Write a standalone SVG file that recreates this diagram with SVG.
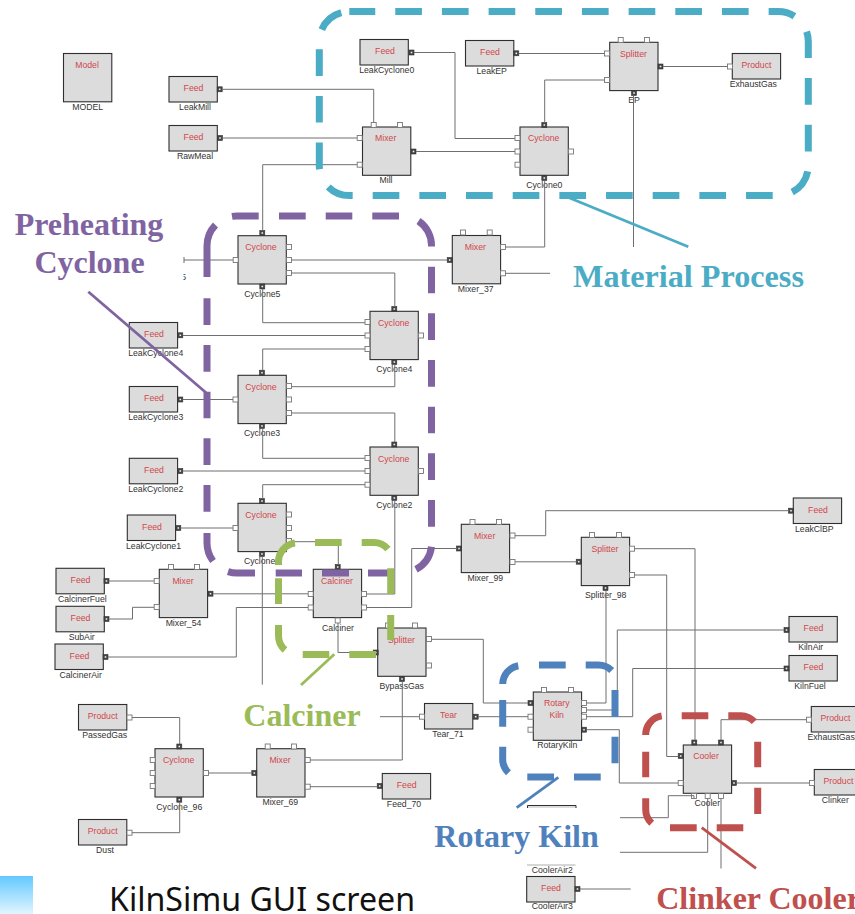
<svg xmlns="http://www.w3.org/2000/svg" xmlns:xlink="http://www.w3.org/1999/xlink" width="855" height="914" viewBox="0 0 855 914">
<style>
.b{fill:#dcdcdc;stroke:#2e2e2e;stroke-width:1.1}
.t{font:8.7px "Liberation Sans",Arial,sans-serif;fill:#d2474b;text-anchor:middle}
.l{font:8.7px "Liberation Sans",Arial,sans-serif;fill:#333;text-anchor:middle}
.c{fill:none;stroke:#6f6f6f;stroke-width:1}
.h{fill:none;stroke-width:7}
.s{fill:none;stroke-width:2.8}
.big{font:bold 32px "Liberation Serif","Times New Roman",serif;text-anchor:middle}
.teal{stroke:#4bacc6}.purple{stroke:#8064a2}.green{stroke:#9bbb59}.blue{stroke:#4f81bd}.red{stroke:#c0504d}
</style>
<defs>
<rect id="pw" x="-2.5" y="-2.5" width="5" height="5" fill="#fff" stroke="#777" stroke-width="0.9"/>
<g id="pk"><rect x="-2.5" y="-2.5" width="5" height="5" fill="#444" stroke="#333" stroke-width="0.6"/><rect x="-0.8" y="-0.8" width="1.6" height="1.6" fill="#eee"/></g>
<linearGradient id="bar" x1="0" y1="0" x2="0" y2="1"><stop offset="0" stop-color="#62c9ff"/><stop offset="1" stop-color="#e2f5ff"/></linearGradient>
<clipPath id="cut5"><rect x="183.5" y="268" width="6" height="14"/></clipPath>
</defs>
<rect width="855" height="914" fill="#fff"/>
<g id="nodes">
<g id="MODEL"><rect class="b" x="63.5" y="53.5" width="48.3" height="48.3"/><text class="t" x="87" y="67.7">Model</text><text class="l" x="87.7" y="110">MODEL</text></g>
<g id="LeakMill"><rect class="b" x="169" y="76.5" width="48.3" height="25.5"/><text class="t" x="193.5" y="91">Feed</text><text class="l" x="195" y="110">LeakMill</text><use href="#pk" x="219.7" y="89.3"/></g>
<g id="RawMeal"><rect class="b" x="169" y="125.5" width="48.3" height="25.5"/><text class="t" x="193.5" y="140">Feed</text><text class="l" x="195" y="159">RawMeal</text><use href="#pk" x="220" y="138"/></g>
<g id="Mill"><rect class="b" x="362.5" y="127" width="48.3" height="48.3"/><text class="t" x="385.7" y="141">Mixer</text><text class="l" x="386" y="183">Mill</text><use href="#pw" x="373.7" y="125"/><use href="#pw" x="400" y="125"/><use href="#pw" x="359.7" y="138"/><use href="#pw" x="359.7" y="164.7"/><use href="#pk" x="413.5" y="151.5"/></g>
<g id="LeakCyclone0"><rect class="b" x="360" y="39.5" width="48.3" height="25.5"/><text class="t" x="385" y="54">Feed</text><text class="l" x="386.7" y="73">LeakCyclone0</text><use href="#pk" x="411.5" y="52.5"/></g>
<g id="LeakEP"><rect class="b" x="465.5" y="40.5" width="48.3" height="25.5"/><text class="t" x="490" y="55">Feed</text><text class="l" x="491.7" y="74">LeakEP</text><use href="#pk" x="516.3" y="53.3"/></g>
<g id="EP"><rect class="b" x="609.7" y="42.3" width="48.3" height="48.3"/><text class="t" x="633.5" y="56.5">Splitter</text><text class="l" x="634" y="103">EP</text><use href="#pw" x="620.7" y="40"/><use href="#pw" x="647" y="40"/><use href="#pw" x="607" y="53.5"/><use href="#pw" x="607" y="80"/><use href="#pk" x="660.5" y="66.5"/><use href="#pk" x="634" y="93"/></g>
<g id="ExhaustGas"><rect class="b" x="732.3" y="53.5" width="48.3" height="25.5"/><text class="t" x="756.5" y="68">Product</text><text class="l" x="753.3" y="87">ExhaustGas</text><use href="#pw" x="730" y="66.5"/></g>
<g id="Cyclone0"><rect class="b" x="520" y="127" width="48.3" height="48.3"/><text class="t" x="543.7" y="141">Cyclone</text><text class="l" x="544.3" y="188">Cyclone0</text><use href="#pk" x="544.3" y="125"/><use href="#pw" x="517.5" y="138"/><use href="#pw" x="517.5" y="151.5"/><use href="#pw" x="517.5" y="164.7"/><use href="#pw" x="571" y="151.5"/><use href="#pk" x="544.3" y="178"/></g>
<g id="Mixer_37"><rect class="b" x="452.3" y="235.5" width="48.3" height="48.3"/><text class="t" x="475.3" y="249.5">Mixer</text><text class="l" x="475.7" y="292">Mixer_37</text><use href="#pw" x="463" y="232.5"/><use href="#pw" x="489.7" y="232.5"/><use href="#pk" x="449.7" y="260"/><use href="#pw" x="503" y="247"/><use href="#pw" x="503" y="273.3"/></g>
<g id="Cyclone5"><rect class="b" x="238" y="235.7" width="48.3" height="48.3"/><text class="t" x="261" y="249.5">Cyclone</text><text class="l" x="262.3" y="296.7">Cyclone5</text><use href="#pk" x="262.3" y="233"/><use href="#pw" x="235.7" y="260"/><use href="#pw" x="289" y="247"/><use href="#pw" x="289" y="260"/><use href="#pw" x="289" y="273"/><use href="#pk" x="262.3" y="286.5"/></g>
<g id="Cyclone4"><rect class="b" x="370" y="311.3" width="48.3" height="48.3"/><text class="t" x="393.7" y="325.5">Cyclone</text><text class="l" x="394.3" y="372">Cyclone4</text><use href="#pk" x="394.3" y="309"/><use href="#pw" x="367.5" y="322"/><use href="#pw" x="367.5" y="335.5"/><use href="#pw" x="367.5" y="349"/><use href="#pw" x="421" y="335.5"/><use href="#pk" x="394.3" y="362"/></g>
<g id="LeakCyclone4"><rect class="b" x="129.3" y="322.5" width="48.3" height="25.5"/><text class="t" x="154" y="337">Feed</text><text class="l" x="155.7" y="356">LeakCyclone4</text><use href="#pk" x="180.3" y="335.3"/></g>
<g id="Cyclone3"><rect class="b" x="238" y="375.3" width="48.3" height="48.3"/><text class="t" x="261" y="389.5">Cyclone</text><text class="l" x="262" y="436">Cyclone3</text><use href="#pk" x="262" y="372.7"/><use href="#pw" x="235.5" y="399.5"/><use href="#pw" x="289" y="386"/><use href="#pw" x="289" y="399.5"/><use href="#pw" x="289" y="413"/><use href="#pk" x="262" y="426"/></g>
<g id="LeakCyclone3"><rect class="b" x="129.3" y="386.5" width="48.3" height="25.5"/><text class="t" x="154" y="401">Feed</text><text class="l" x="155.7" y="420">LeakCyclone3</text><use href="#pk" x="180.3" y="399.5"/></g>
<g id="Cyclone2"><rect class="b" x="370" y="447" width="48.3" height="48.3"/><text class="t" x="393.7" y="461.5">Cyclone</text><text class="l" x="394.3" y="508">Cyclone2</text><use href="#pk" x="394.3" y="444.5"/><use href="#pw" x="367.5" y="458"/><use href="#pw" x="367.5" y="471"/><use href="#pw" x="367.5" y="484.7"/><use href="#pw" x="421" y="471"/><use href="#pk" x="394.3" y="498"/></g>
<g id="LeakCyclone2"><rect class="b" x="129.3" y="458.3" width="48.3" height="25.5"/><text class="t" x="154" y="473">Feed</text><text class="l" x="155.7" y="492">LeakCyclone2</text><use href="#pk" x="180.3" y="471"/></g>
<g id="Cyclone1"><rect class="b" x="238" y="503.3" width="48.3" height="48.3"/><text class="t" x="261" y="517.5">Cyclone</text><text class="l" x="262" y="564">Cyclone1</text><use href="#pk" x="262" y="501"/><use href="#pw" x="235.5" y="528"/><use href="#pw" x="289" y="514.5"/><use href="#pw" x="289" y="528"/><use href="#pw" x="289" y="541"/><use href="#pk" x="262" y="554"/></g>
<g id="LeakCyclone1"><rect class="b" x="127.3" y="515" width="48.3" height="25.5"/><text class="t" x="152" y="529.5">Feed</text><text class="l" x="153.5" y="548.5">LeakCyclone1</text><use href="#pk" x="178.3" y="528"/></g>
<g id="Calciner"><rect class="b" x="313.3" y="569.3" width="48.3" height="48.3"/><text class="t" x="337" y="583.5">Calciner</text><text class="l" x="338" y="630.5">Calciner</text><use href="#pk" x="337.7" y="567"/><use href="#pw" x="310.7" y="594"/><use href="#pw" x="310.7" y="607.5"/><use href="#pw" x="364" y="594"/><use href="#pw" x="364" y="607.5"/><use href="#pw" x="337.7" y="620.5"/></g>
<g id="Mixer_54"><rect class="b" x="159.3" y="569.3" width="48.3" height="48.3"/><text class="t" x="183" y="583.5">Mixer</text><text class="l" x="183.5" y="625.7">Mixer_54</text><use href="#pw" x="171" y="567"/><use href="#pw" x="197" y="567"/><use href="#pw" x="156.7" y="581"/><use href="#pw" x="156.7" y="607"/><use href="#pk" x="210.5" y="593.7"/></g>
<g id="CalcinerFuel"><rect class="b" x="56" y="568.3" width="48.3" height="25.5"/><text class="t" x="80.5" y="583">Feed</text><text class="l" x="82.3" y="602">CalcinerFuel</text><use href="#pk" x="106.5" y="581"/></g>
<g id="SubAir"><rect class="b" x="56" y="606.3" width="48.3" height="25.5"/><text class="t" x="80.5" y="621">Feed</text><text class="l" x="81.7" y="640">SubAir</text><use href="#pk" x="106.5" y="619"/></g>
<g id="CalcinerAir"><rect class="b" x="55" y="644" width="48.3" height="25.5"/><text class="t" x="79.5" y="658.5">Feed</text><text class="l" x="80.7" y="677.5">CalcinerAir</text><use href="#pk" x="105.5" y="657"/></g>
<g id="BypassGas"><rect class="b" x="377.7" y="628" width="48.3" height="48.3"/><text class="t" x="401.5" y="642.5">Splitter</text><text class="l" x="401.7" y="688.7">BypassGas</text><use href="#pw" x="388" y="625.5"/><use href="#pw" x="415" y="625.5"/><use href="#pk" x="375.7" y="652.5"/><use href="#pw" x="429" y="639"/><use href="#pw" x="429" y="665.5"/><use href="#pk" x="402" y="679"/></g>
<g id="PassedGas"><rect class="b" x="78.5" y="704.5" width="48.3" height="25.5"/><text class="t" x="102.7" y="719">Product</text><text class="l" x="104.7" y="738">PassedGas</text><use href="#pw" x="129.5" y="717.5"/></g>
<g id="Cyclone_96"><rect class="b" x="155" y="748.7" width="48.3" height="48.3"/><text class="t" x="178.7" y="763">Cyclone</text><text class="l" x="179.3" y="810">Cyclone_96</text><use href="#pk" x="179.3" y="746.5"/><use href="#pw" x="152.7" y="760"/><use href="#pw" x="152.7" y="773"/><use href="#pw" x="152.7" y="786"/><use href="#pw" x="206" y="773"/><use href="#pk" x="179.3" y="799.7"/></g>
<g id="Mixer_69"><rect class="b" x="256.7" y="748.7" width="48.3" height="48.3"/><text class="t" x="280" y="763">Mixer</text><text class="l" x="280.3" y="805">Mixer_69</text><use href="#pw" x="267.7" y="746.5"/><use href="#pw" x="294" y="746.5"/><use href="#pk" x="254.3" y="773"/><use href="#pw" x="307.7" y="760"/><use href="#pw" x="307.7" y="786.7"/></g>
<g id="Feed_70"><rect class="b" x="382.3" y="773.5" width="48.3" height="25.5"/><text class="t" x="406.7" y="788">Feed</text><text class="l" x="404" y="807">Feed_70</text><use href="#pk" x="379.7" y="786"/></g>
<g id="Dust"><rect class="b" x="78.5" y="819.5" width="48.3" height="25.5"/><text class="t" x="102.7" y="834">Product</text><text class="l" x="105" y="853">Dust</text><use href="#pw" x="129.5" y="832.7"/></g>
<g id="Tear_71"><rect class="b" x="424.5" y="703.5" width="48.3" height="25.5"/><text class="t" x="448.5" y="718">Tear</text><text class="l" x="448" y="737">Tear_71</text><use href="#pw" x="422" y="716.7"/><use href="#pk" x="475.7" y="716.7"/></g>
<g id="Mixer_99"><rect class="b" x="461.3" y="524.3" width="48.3" height="48.3"/><text class="t" x="484.7" y="538.5">Mixer</text><text class="l" x="485.3" y="580.5">Mixer_99</text><use href="#pw" x="472.5" y="522"/><use href="#pw" x="499" y="522"/><use href="#pk" x="459" y="548.5"/><use href="#pw" x="512.5" y="535.5"/><use href="#pw" x="512.5" y="562"/></g>
<g id="Splitter_98"><rect class="b" x="581.3" y="537.3" width="48.3" height="48.3"/><text class="t" x="605" y="551.7">Splitter</text><text class="l" x="605.7" y="598.3">Splitter_98</text><use href="#pw" x="592" y="535"/><use href="#pw" x="619" y="535"/><use href="#pk" x="578.7" y="561.7"/><use href="#pw" x="632" y="548.7"/><use href="#pw" x="632" y="575"/><use href="#pk" x="605.5" y="588"/></g>
<g id="LeakClBP"><rect class="b" x="793.3" y="498" width="48.3" height="25.5"/><text class="t" x="818" y="512.5">Feed</text><text class="l" x="814.3" y="531.5">LeakClBP</text><use href="#pk" x="791" y="510.7"/></g>
<g id="KilnAir"><rect class="b" x="789" y="616.5" width="48.3" height="25.5"/><text class="t" x="813.5" y="631">Feed</text><text class="l" x="810.7" y="650">KilnAir</text><use href="#pk" x="786.5" y="630"/></g>
<g id="KilnFuel"><rect class="b" x="789" y="655.5" width="48.3" height="25.5"/><text class="t" x="813.5" y="670">Feed</text><text class="l" x="810" y="689">KilnFuel</text><use href="#pk" x="786.5" y="668.5"/></g>
<g id="RotaryKiln"><rect class="b" x="533.3" y="692" width="48.3" height="48.3"/><text class="t" x="556.7" y="705.7">Rotary</text><text class="t" x="556.7" y="718">Kiln</text><text class="l" x="557.3" y="748">RotaryKiln</text><use href="#pw" x="544" y="690"/><use href="#pw" x="571" y="690"/><use href="#pk" x="530.5" y="703"/><use href="#pw" x="530.5" y="716.7"/><use href="#pw" x="530.5" y="729.7"/><use href="#pw" x="584" y="703"/><use href="#pw" x="584" y="710"/><use href="#pw" x="584" y="716.7"/><use href="#pk" x="584" y="729.7"/></g>
<g id="Cooler"><rect class="b" x="683.3" y="745" width="48.3" height="48.3"/><text class="t" x="706" y="759">Cooler</text><text class="l" x="707.3" y="805.7">Cooler</text><use href="#pk" x="694.3" y="742.5"/><use href="#pk" x="721" y="742.5"/><use href="#pk" x="680.7" y="756"/><use href="#pw" x="680.7" y="783"/><use href="#pk" x="734" y="783"/><use href="#pw" x="694" y="796"/><use href="#pw" x="707.7" y="796"/><use href="#pw" x="721" y="796"/></g>
<g id="ExhaustGas3"><rect class="b" x="811.3" y="706.5" width="48.3" height="25.5"/><text class="t" x="835.5" y="721">Product</text><text class="l" x="833.5" y="740">ExhaustGas3</text><use href="#pw" x="809" y="719.7"/></g>
<g id="Clinker"><rect class="b" x="814.3" y="769.5" width="48.3" height="25.5"/><text class="t" x="838.5" y="784">Product</text><text class="l" x="835.3" y="803">Clinker</text><use href="#pw" x="812" y="783"/></g>
<g id="CoolerAir2"><path d="M527.5 808V805.5H576V808" fill="#dcdcdc" stroke="#2e2e2e" stroke-width="1"/><path d="M527 865H575.5" fill="none" stroke="#999" stroke-width="0.8"/><text class="l" x="552.3" y="872.5">CoolerAir2</text></g>
<g id="CoolerAir3"><rect class="b" x="526.7" y="876.5" width="48.3" height="25.5"/><text class="t" x="551" y="891">Feed</text><text class="l" x="552.3" y="909">CoolerAir3</text><use href="#pk" x="577.5" y="889"/></g>
</g>
<g id="connectors" class="c">
<path d="M222 89.3H373.7V122.5"/>
<path d="M222.5 138H357"/>
<path d="M357 164.7H262.7V230.5"/>
<path d="M416 151.5H515"/>
<path d="M414 52.5H455V138.5H515"/>
<path d="M519 53.5H604.5"/>
<path d="M544.7 122.5V80H604.5"/>
<path d="M663 66.5H727.5"/>
<path d="M633.5 95.5V247"/>
<path d="M544.7 180.5V247H505.5"/>
<path d="M505.5 273.3H550"/>
<path d="M291.5 260H447"/>
<path d="M233 260H184M184 257V263"/>
<path d="M291.5 273H394.8V306.5"/>
<path d="M262.7 289V322.7H365"/>
<path d="M183 335.5H365"/>
<path d="M262.7 370V349H365"/>
<path d="M394.8 364.5V386.7H291.5"/>
<path d="M291.5 413H394.8V442"/>
<path d="M262.7 428.5V458.3H365"/>
<path d="M183 399.5H233"/>
<path d="M183 471H365"/>
<path d="M262.7 498.5V484.7H365"/>
<path d="M394.8 500.5V594H366.5"/>
<path d="M181 528H233"/>
<path d="M291.5 541.7H338.3V564.5"/>
<path d="M262.3 556.5V684.7"/>
<path d="M213 593.8H308"/>
<path d="M109 581H154"/>
<path d="M109 619H132.5V607.3H154"/>
<path d="M108 657H236.3V607.5H308"/>
<path d="M366.5 607.5H411.7V548.5H456.5"/>
<path d="M338 623V652.5H373"/>
<path d="M431.5 639.3H483.3V703H528"/>
<path d="M402.3 681.5V760H310"/>
<path d="M380 716.7H419.5"/>
<path d="M478 716.7H528"/>
<path d="M132 717.5H179.7V744"/>
<path d="M132 832.7H179.7V802"/>
<path d="M208.5 773H252"/>
<path d="M310 786.7H377"/>
<path d="M788.5 510.7H545.7V535.7H515"/>
<path d="M515 561.8H576"/>
<path d="M634.5 548.7H695V740"/>
<path d="M634.5 575H666.7V756.5H678"/>
<path d="M606 590.5V703H586.5"/>
<path d="M784 630H617.3V710H586.5"/>
<path d="M784 668.5H632.7V716.7H586.5"/>
<path d="M586.5 729.7H619.3V783H678"/>
<path d="M721 740V719.7H806.5"/>
<path d="M736.5 783H809.5"/>
<path d="M694 798.5V795.7H668.3V817.7H620"/>
<path d="M707.7 798.5V852.3H620"/>
<path d="M721 798.5V868.5"/>
<path d="M580 889H630.7"/>
</g>
<text class="l" x="186" y="280" style="text-anchor:end" clip-path="url(#cut5)">5</text>
<g id="highlights">
<rect class="h teal" x="319.3" y="11.5" width="489" height="184" rx="30" stroke-dasharray="26.67 20" stroke-dashoffset="0.7"/>
<path class="s teal" d="M566.7 196.7L688.3 246.7"/>
<path class="h purple" d="M207 277V246A30 30 0 0 1 215.5 225M232 216.4A30 30 0 0 1 237 216H258.7M279 216H305.7M325.7 216H352.3M372.3 216H399M418.5 221A30 30 0 0 1 431.5 246.5M431.5 266.7V293.3M431.5 313.3V340M431.5 360V386.7M431.5 406.7V433.3M431.5 453.3V480M431.5 500V526.7M431.5 546.7A30 30 0 0 1 416 569.3M393 573H368M349 573H322M302 573H275.7M255 573H237A30 30 0 0 1 228 571.6M213 561A30 30 0 0 1 207 543V533M207 511.7V485M207 465V438.3M207 418.3V391.7M207 371.7V345M207 325V298.3"/>
<path class="s purple" d="M88.3 291.7L207 393.5"/>
<path class="h green" d="M295 543A19 19 0 0 0 278.5 562V565M278.5 578.3V604M278.5 625V635.5A19 19 0 0 0 285 650M302.7 654.5H329.3M349.3 654.5H376M390.7 640V615M390.7 594V568.3M388 549A19 19 0 0 0 372 542.5H361.7M341.7 542.5H315"/>
<path class="s green" d="M334.3 654.3L301 685"/>
<path class="h blue" d="M518.3 665.7A19 19 0 0 0 502.7 684M502.7 700V726.7M502.7 746.7V758A19 19 0 0 0 508.5 772.7M527.3 777H554M574 777H600.7M615 763.3V736.7M615 716.7V690M611.7 670.5A19 19 0 0 0 598 665H585.7M565.7 665H539"/>
<path class="s blue" d="M558.3 777.3L516.7 807.7"/>
<path class="h red" d="M661.7 715.9A19 19 0 0 0 645.7 735M645.7 751.7V777.3M645.7 798.3V809A19 19 0 0 0 651.7 823.3M670 827.7H696.7M716.7 827.7H743.3M757.7 814V787.7M757.7 767.3V741.7M754.3 721.7A19 19 0 0 0 741 715.7H728.3M708.3 715.7H681.7"/>
<path class="s red" d="M701.7 827.7L756 868.3"/>
</g>
<g id="titles">
<text class="big" x="89" y="235" fill="#8064a2">Preheating</text>
<text class="big" x="89.5" y="273.3" fill="#8064a2">Cyclone</text>
<text class="big" x="688.5" y="286.7" fill="#4bacc6" style="font-size:32.2px">Material Process</text>
<text class="big" x="302" y="725.7" fill="#9bbb59">Calciner</text>
<text class="big" x="516.5" y="847.3" fill="#4f81bd">Rotary Kiln</text>
<text class="big" x="758.5" y="909" fill="#c0504d">Clinker Cooler</text>
<rect x="0" y="876" width="33" height="38" fill="url(#bar)"/>
<text x="109" y="911" font-family="'Noto Sans','Open Sans',sans-serif" font-size="32" fill="#111" textLength="306" lengthAdjust="spacingAndGlyphs">KilnSimu GUI screen</text>
</g>
</svg>
